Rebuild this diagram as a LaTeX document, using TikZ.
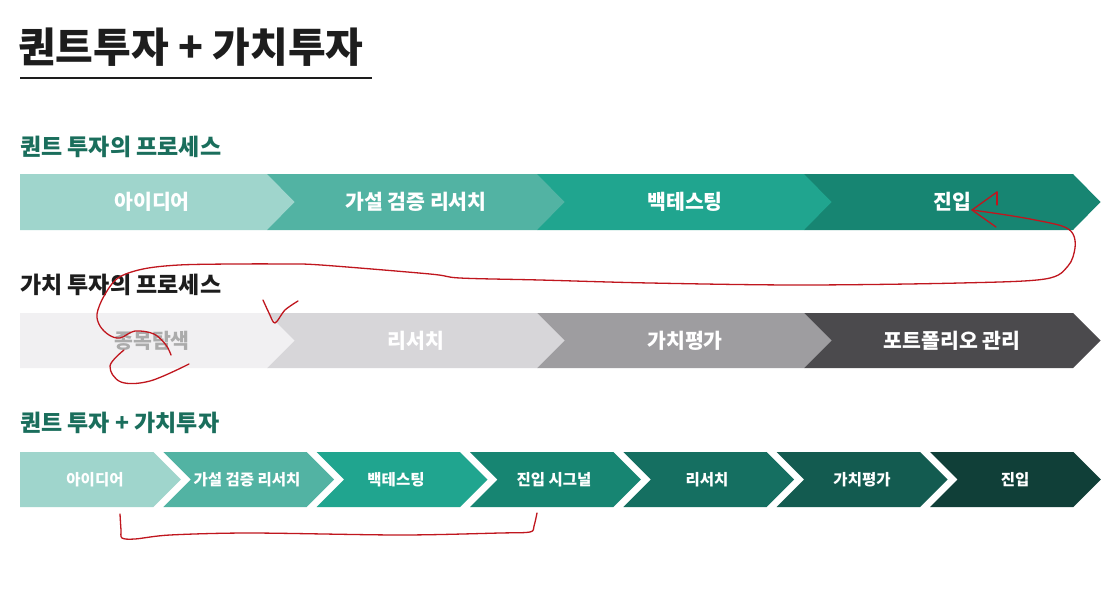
\documentclass[tikz,border=0pt]{standalone}
\usepackage{fontspec}
\setmainfont{Noto Sans CJK KR}
\definecolor{gA}{HTML}{9FD5CC}
\definecolor{gB}{HTML}{52B3A3}
\definecolor{gC}{HTML}{20A58F}
\definecolor{gD}{HTML}{178572}
\definecolor{gE}{HTML}{156F61}
\definecolor{gF}{HTML}{135B50}
\definecolor{gG}{HTML}{103F38}
\definecolor{kA}{HTML}{F1F0F2}
\definecolor{kB}{HTML}{D7D6D9}
\definecolor{kC}{HTML}{9E9DA0}
\definecolor{kD}{HTML}{4B4A4D}
\definecolor{headgreen}{HTML}{1A6E5C}
\definecolor{titleblack}{HTML}{1D1D1D}
\definecolor{penred}{HTML}{C0161E}
\tikzset{
  titletext/.style={anchor=west,inner sep=0pt,text=titleblack,font=\fontsize{41}{41}\selectfont\bfseries},
  headtext/.style={anchor=west,inner sep=0pt,font=\fontsize{23}{23}\selectfont\bfseries},
  bigstep/.style={inner sep=0pt,text=white,font=\fontsize{20.5}{20.5}\selectfont\bfseries},
  smallstep/.style={inner sep=0pt,text=white,font=\fontsize{15.5}{15.5}\selectfont\bfseries},
  pen/.style={draw=penred,line width=1.3pt,line cap=round,line join=round}
}
\begin{document}
\begin{tikzpicture}[x=1pt,y=-1pt]
\useasboundingbox (0,0) rectangle (1116,600);
\fill[white] (0,0) rectangle (1116,600);

% title
\node[titletext] (title) at (18,47) {퀀트투자 + 가치투자};
\draw[line width=2pt,titleblack] (20,78) coordinate (ulA) -- (372,78) coordinate (ulB);

% headings
\node[headtext,text=headgreen] (headA) at (20,147) {퀀트 투자의 프로세스};
\node[headtext,text=titleblack] (headB) at (20,285) {가치 투자의 프로세스};
\node[headtext,text=headgreen] (headC) at (20,423) {퀀트 투자 + 가치투자};

% row 1
\fill[gD] (804,174) -- (1073,174) -- (1100.5,202) -- (1073,230) -- (804,230) -- cycle;
\fill[gC] (537,174) -- (804,174) -- (831.5,202) -- (804,230) -- (537,230) -- cycle;
\fill[gB] (267,174) -- (537,174) -- (564.5,202) -- (537,230) -- (267,230) -- cycle;
\fill[gA] (20,174) -- (267,174) -- (294.5,202) -- (267,230) -- (20,230) -- cycle;
\node[bigstep] (qa) at (152,202) {아이디어};
\node[bigstep] (qb) at (416,202) {가설 검증 리서치};
\node[bigstep] (qc) at (685,202) {백테스팅};
\node[bigstep] (qd) at (952,202) {진입};

% row 2
\fill[kD] (804,313) -- (1073,313) -- (1100.5,340.5) -- (1073,368) -- (804,368) -- cycle;
\fill[kC] (537,313) -- (804,313) -- (831.5,340.5) -- (804,368) -- (537,368) -- cycle;
\fill[kB] (267,313) -- (537,313) -- (564.5,340.5) -- (537,368) -- (267,368) -- cycle;
\fill[kA] (20,313) -- (267,313) -- (294.5,340.5) -- (267,368) -- (20,368) -- cycle;
\node[bigstep,text=black!33] (va) at (152,341) {종목탐색};
\node[bigstep] (vb) at (416,341) {리서치};
\node[bigstep] (vc) at (685,341) {가치평가};
\node[bigstep] (vd) at (952,341) {포트폴리오 관리};

% row 3
\fill[gA] (20,452) -- (153.3,452) -- (180.8,479.5) -- (153.3,507) -- (20,507) -- cycle;
\fill[gB] (163.3,452) -- (306.7,452) -- (334.2,479.5) -- (306.7,507) -- (163.3,507) -- (190.8,479.5) -- cycle;
\fill[gC] (316.7,452) -- (460,452) -- (487.5,479.5) -- (460,507) -- (316.7,507) -- (344.2,479.5) -- cycle;
\fill[gD] (470,452) -- (613.3,452) -- (640.8,479.5) -- (613.3,507) -- (470,507) -- (497.5,479.5) -- cycle;
\fill[gE] (623.3,452) -- (766.7,452) -- (794.2,479.5) -- (766.7,507) -- (623.3,507) -- (650.8,479.5) -- cycle;
\fill[gF] (776.7,452) -- (920,452) -- (947.5,479.5) -- (920,507) -- (776.7,507) -- (804.2,479.5) -- cycle;
\fill[gG] (930,452) -- (1073.3,452) -- (1100.8,479.5) -- (1073.3,507) -- (930,507) -- (957.5,479.5) -- cycle;
\node[smallstep] (ca) at (95,480) {아이디어};
\node[smallstep] (cb) at (247,480) {가설 검증 리서치};
\node[smallstep] (cc) at (396,480) {백테스팅};
\node[smallstep] (cd) at (554,480) {진입 시그널};
\node[smallstep] (ce) at (707,480) {리서치};
\node[smallstep] (cf) at (862,480) {가치평가};
\node[smallstep] (cg) at (1015,480) {진입};

% red annotations
\coordinate (tip) at (972,210);
\draw[pen] (997,192) -- (997,205);
\draw[pen] (997,192) -- (tip) -- (996,227);
\draw[pen] plot[smooth,tension=0.55] coordinates {(972,210) (1000,214) (1030,219) (1062,226) (1073,234) (1075,248) (1068,266) (1045,279) (960,283) (800,285) (650,283) (540,280) (460,278) (430,274) (321,265) (286,264) (232,264) (179,265) (143,269) (118,278) (104,296) (97,314) (100,326) (109,335) (120,338) (135,331) (154,334) (166,345) (171,355)};
\draw[pen] plot[smooth,tension=0.6] coordinates {(124,350) (110,366) (121,382) (150,381) (189,364)};
\draw[pen] plot[smooth,tension=0.5] coordinates {(263,300) (269,313) (275,323) (285,310) (298,301)};
\draw[pen] plot[smooth,tension=0.5] coordinates {(120,514) (121,530) (122,538) (135,539) (170,535) (250,533) (400,535) (500,533) (530,532) (534,526) (537,513)};
\end{tikzpicture}
\end{document}
